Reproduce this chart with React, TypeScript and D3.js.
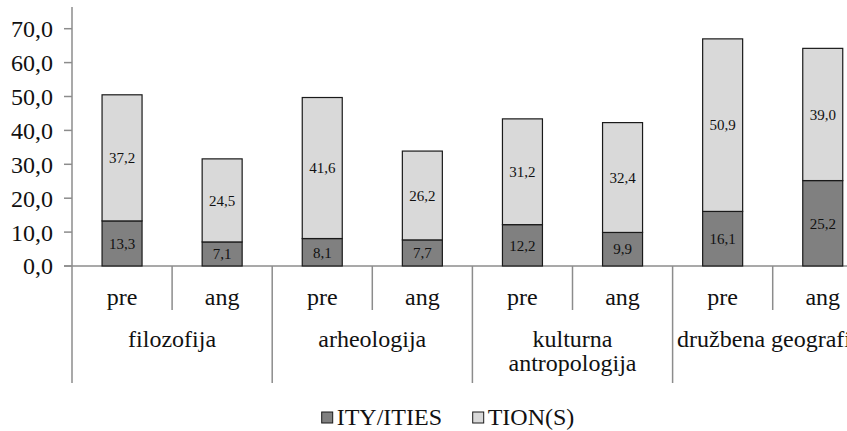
import React from "react";
import * as d3 from "d3";

const groups = ["filozofija", "arheologija", "kulturna antropologija", "družbena geografija"];
const groupLines = [["filozofija"], ["arheologija"], ["kulturna", "antropologija"], ["družbena geografija"]];
const subs = ["pre", "ang"];
const ityValues = [13.3, 7.1, 8.1, 7.7, 12.2, 9.9, 16.1, 25.2];
const tionValues = [37.2, 24.5, 41.6, 26.2, 31.2, 32.4, 50.9, 39.0];
const yTicks = [0, 10, 20, 30, 40, 50, 60, 70];
const seriesNames = ["ITY/ITIES", "TION(S)"];
const seriesColors = ["#808080", "#d9d9d9"];

const W = 847;
const H = 431;
const x0 = 72;
const slotW = 100.1;
const baseY = 266;
const pxPerUnit = 3.39;
const plotTop = 7;
const barW = 40;
const font = "Liberation Serif, Tinos, Times New Roman, DejaVu Serif, serif";
const ts: React.CSSProperties = { fontFamily: font };

export default function App() {
  const keys = d3.range(groups.length * subs.length).map(String);
  const x = d3.scaleBand<string>().domain(keys).range([x0, x0 + slotW * keys.length]).padding(0);
  const y = d3.scaleLinear().domain([0, 80]).range([baseY, baseY - 80 * pxPerUnit]);
  const fmt = (v: number) => d3.format(".1f")(v).replace(".", ",");

  const stackData = keys.map((k, i) => ({ key: k, ity: ityValues[i], tion: tionValues[i] }));
  const stack = d3.stack<any>().keys(["ity", "tion"])(stackData);

  return (
    <svg width={W} height={H} style={{ position: "absolute", left: 0, top: 0, background: "#fff", fontFamily: font }}>
      <rect x={0} y={0} width={W} height={H} fill="#fff" />
      {/* y axis */}
      <line x1={x0} x2={x0} y1={plotTop} y2={baseY} stroke="#8c8c8c" strokeWidth={1.5} />
      {yTicks.map((t) => (
        <g key={t}>
          <line x1={x0 - 8} x2={x0} y1={y(t)} y2={y(t)} stroke="#8c8c8c" strokeWidth={1.5} />
          <text x={53} y={y(t)} dy="0.35em" textAnchor="end" fontSize={24} fill="#111" style={ts}>
            {fmt(t)}
          </text>
        </g>
      ))}
      {/* x axis */}
      <line x1={x0 - 8} x2={W} y1={baseY} y2={baseY} stroke="#8c8c8c" strokeWidth={1.5} />
      {keys.map((k, i) => {
        const xl = x(k)!;
        const isGroupStart = i % subs.length === 0;
        return (
          <line key={"sep" + k} x1={xl} x2={xl} y1={baseY} y2={isGroupStart ? 383 : 310} stroke="#8c8c8c" strokeWidth={1.5} />
        );
      })}
      {/* bars */}
      {stack.map((s, si) =>
        s.map((d, i) => {
          const k = keys[i];
          const cx = x(k)! + x.bandwidth() / 2;
          const y1 = y(d[1]);
          const y0 = y(d[0]);
          return (
            <g key={si + "-" + i}>
              <rect x={cx - barW / 2} y={y1} width={barW} height={y0 - y1} fill={seriesColors[si]} stroke="#1a1a1a" strokeWidth={1.2} />
              <text x={cx} y={(y0 + y1) / 2} dy="0.35em" textAnchor="middle" fontSize={15} fill="#111" style={ts}>
                {fmt(d[1] - d[0])}
              </text>
            </g>
          );
        })
      )}
      {/* sub labels */}
      {keys.map((k, i) => (
        <text key={"sub" + k} x={x(k)! + x.bandwidth() / 2} y={305} textAnchor="middle" fontSize={24} fill="#111" style={ts}>
          {subs[i % subs.length]}
        </text>
      ))}
      {/* group labels */}
      {groups.map((g, gi) => {
        const xs = x(keys[gi * subs.length])!;
        const cx = xs + (x.bandwidth() * subs.length) / 2;
        return (
          <text key={g} x={cx} y={347} textAnchor="middle" fontSize={24} fill="#111" style={ts}>
            {groupLines[gi].map((ln, li) => (
              <tspan key={li} x={cx} dy={li === 0 ? 0 : 23.5}>
                {ln}
              </tspan>
            ))}
          </text>
        );
      })}
      {/* legend */}
      {seriesNames.map((n, i) => {
        const lx = [321.7, 472.7][i];
        return (
          <g key={n}>
            <rect x={lx} y={412} width={11} height={11} fill={seriesColors[i]} stroke="#1a1a1a" strokeWidth={1} />
            <text x={lx + 15} y={425} fontSize={24} fill="#111" style={ts}>
              {n}
            </text>
          </g>
        );
      })}
    </svg>
  );
}
